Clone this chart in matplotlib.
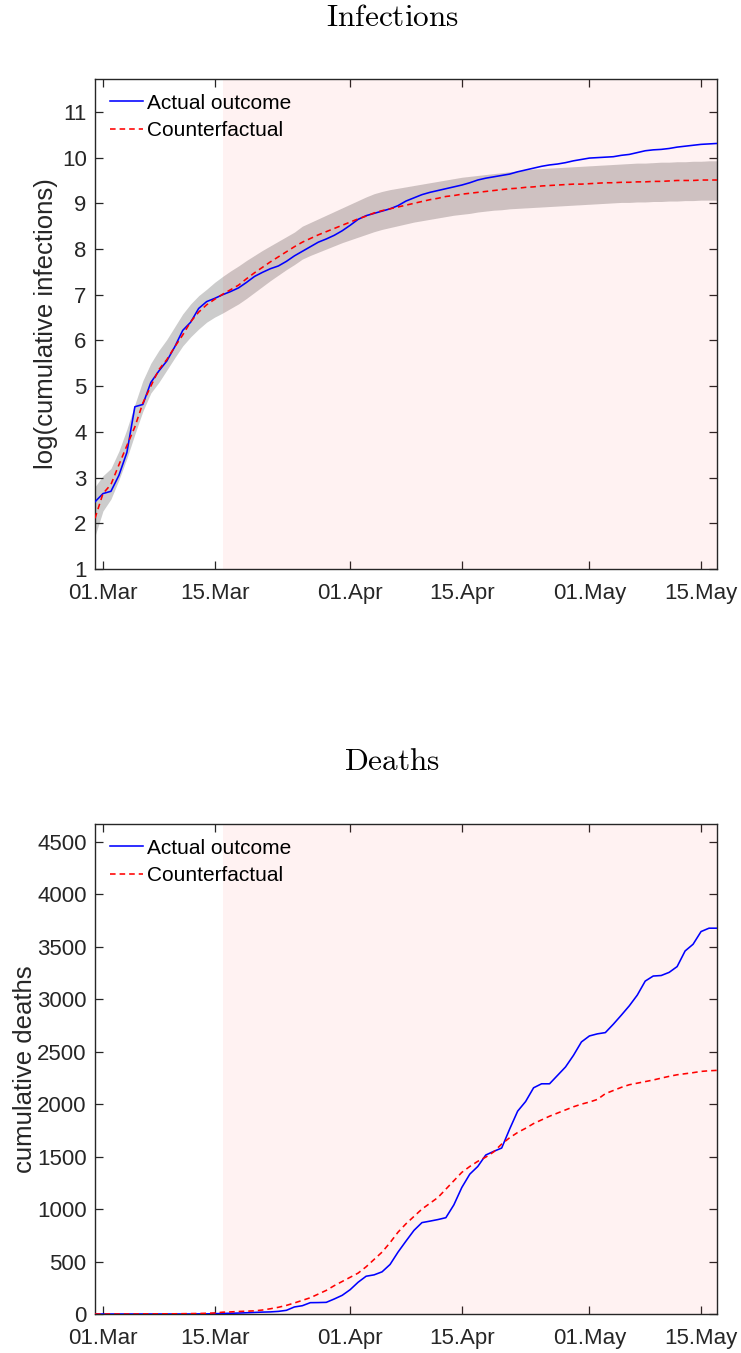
import matplotlib
matplotlib.use("Agg")
import matplotlib.pyplot as plt
import matplotlib.dates as mdates
import numpy as np
import pandas as pd

plt.rcParams['font.family'] = ['Liberation Sans', 'DejaVu Sans']
plt.rcParams['mathtext.fontset'] = 'cm'

# ---------------- data ----------------
start_date = "2020-02-29"
n_days = 79
policy_start = "2020-03-16"

inf_actual = [2.47, 2.65, 2.70, 3.05, 3.55, 4.55, 4.60, 5.08, 5.33, 5.55,
              5.86, 6.22, 6.40, 6.70, 6.85, 6.92, 7.00, 7.07, 7.15, 7.27,
              7.40, 7.49, 7.57, 7.63, 7.73, 7.85, 7.95, 8.05, 8.15, 8.22,
              8.30, 8.40, 8.52, 8.65, 8.73, 8.78, 8.83, 8.88, 8.95, 9.05,
              9.12, 9.19, 9.24, 9.28, 9.32, 9.36, 9.40, 9.45, 9.51, 9.55,
              9.58, 9.61, 9.64, 9.69, 9.73, 9.77, 9.81, 9.84, 9.86, 9.89,
              9.93, 9.96, 9.99, 10.00, 10.01, 10.02, 10.05, 10.07, 10.11, 10.15,
              10.17, 10.18, 10.20, 10.23, 10.25, 10.27, 10.29, 10.30, 10.31]

inf_counter = [2.11, 2.65, 2.85, 3.28, 3.70, 4.11, 4.63, 5.00, 5.36, 5.58,
               5.86, 6.12, 6.41, 6.62, 6.78, 6.90, 7.01, 7.11, 7.21, 7.35,
               7.48, 7.60, 7.72, 7.83, 7.94, 8.05, 8.15, 8.23, 8.31, 8.38,
               8.45, 8.52, 8.59, 8.66, 8.72, 8.79, 8.84, 8.88, 8.92, 8.96,
               9.00, 9.04, 9.08, 9.11, 9.15, 9.17, 9.20, 9.22, 9.24, 9.26,
               9.28, 9.30, 9.32, 9.33, 9.35, 9.36, 9.38, 9.39, 9.40, 9.41,
               9.42, 9.42, 9.43, 9.44, 9.45, 9.45, 9.46, 9.46, 9.47, 9.47,
               9.48, 9.48, 9.49, 9.50, 9.50, 9.50, 9.51, 9.51, 9.51]

inf_upper = [2.80, 3.04, 3.20, 3.58, 4.06, 4.60, 5.12, 5.50, 5.78, 6.02,
             6.30, 6.58, 6.80, 6.98, 7.12, 7.27, 7.40, 7.52, 7.63, 7.75,
             7.86, 7.97, 8.07, 8.17, 8.27, 8.37, 8.50, 8.58, 8.66, 8.74,
             8.82, 8.90, 8.98, 9.06, 9.14, 9.21, 9.26, 9.30, 9.33, 9.36,
             9.39, 9.42, 9.45, 9.48, 9.51, 9.54, 9.57, 9.59, 9.61, 9.63,
             9.65, 9.67, 9.69, 9.71, 9.73, 9.75, 9.76, 9.77, 9.78, 9.79,
             9.80, 9.81, 9.82, 9.83, 9.84, 9.85, 9.86, 9.87, 9.88, 9.88,
             9.89, 9.90, 9.90, 9.91, 9.91, 9.92, 9.92, 9.93, 9.93]

inf_lower = [1.72, 2.27, 2.53, 2.95, 3.42, 3.95, 4.45, 4.85, 5.08, 5.35,
             5.62, 5.88, 6.08, 6.25, 6.40, 6.51, 6.60, 6.70, 6.80, 6.92,
             7.05, 7.18, 7.31, 7.43, 7.55, 7.66, 7.78, 7.86, 7.93, 8.00,
             8.07, 8.14, 8.20, 8.26, 8.32, 8.38, 8.43, 8.47, 8.51, 8.55,
             8.59, 8.62, 8.65, 8.68, 8.71, 8.74, 8.76, 8.78, 8.81, 8.83,
             8.85, 8.86, 8.88, 8.89, 8.90, 8.91, 8.92, 8.93, 8.94, 8.95,
             8.96, 8.97, 8.98, 8.99, 9.00, 9.01, 9.02, 9.02, 9.03, 9.03,
             9.04, 9.04, 9.05, 9.05, 9.06, 9.06, 9.07, 9.07, 9.07]

deaths_actual = [0, 0, 0, 0, 0, 0, 0, 0, 0, 0,
                 0, 0, 0, 1, 1, 3, 5, 7, 9, 12,
                 15, 18, 20, 25, 35, 67, 79, 108, 109, 111,
                 143, 178, 232, 303, 360, 373, 402, 472, 590, 695,
                 797, 871, 885, 900, 918, 1040, 1206, 1333, 1406, 1515,
                 1550, 1582, 1763, 1933, 2025, 2156, 2194, 2194, 2274, 2354,
                 2465, 2593, 2650, 2670, 2682, 2762, 2848, 2937, 3039, 3173,
                 3221, 3226, 3256, 3311, 3460, 3524, 3645, 3677, 3677]

deaths_counter = [0, 0, 0, 0, 0, 0, 1, 1, 1, 2,
                  2, 3, 4, 5, 7, 10, 17, 20, 24, 27,
                  30, 38, 50, 64, 82, 105, 130, 155, 190, 225,
                  270, 310, 350, 390, 450, 520, 590, 680, 780, 860,
                  930, 1000, 1055, 1110, 1190, 1270, 1350, 1406, 1455, 1495,
                  1545, 1620, 1680, 1730, 1770, 1815, 1850, 1885, 1915, 1945,
                  1975, 2000, 2020, 2045, 2100, 2130, 2160, 2185, 2200, 2215,
                  2230, 2248, 2265, 2280, 2290, 2300, 2312, 2318, 2322]

tick_dates = ["2020-03-01", "2020-03-15", "2020-04-01", "2020-04-15",
              "2020-05-01", "2020-05-15"]
inf_yticks = [1, 2, 3, 4, 5, 6, 7, 8, 9, 10, 11]
death_yticks = [0, 500, 1000, 1500, 2000, 2500, 3000, 3500, 4000, 4500]

# ---------------- plot ----------------
dates = pd.date_range(start_date, periods=n_days)
W, H = 741, 1353
fig = plt.figure(figsize=(W / 100, H / 100), dpi=100)

spine_col = '#262626'
tick_fs = 16
leg_fs = 15
ylab_fs = 18.5


def style_axes(ax, yticks, ylim):
    ax.set_xlim(dates[0], dates[-1])
    ax.set_ylim(*ylim)
    ax.set_yticks(yticks)
    ax.set_xticks(pd.to_datetime(tick_dates))
    ax.xaxis.set_major_formatter(mdates.DateFormatter('%d.%b'))
    ax.tick_params(direction='in', length=6, width=0.9, colors=spine_col,
                   labelsize=tick_fs, top=True, right=True)
    ax.tick_params(axis='y', pad=6)
    ax.tick_params(axis='x', pad=10)
    for s in ax.spines.values():
        s.set_color(spine_col)
        s.set_linewidth(1.0)


def legend(ax):
    ax.legend(loc='upper left', frameon=False, fontsize=leg_fs,
              handlelength=1.6, handletextpad=0.2, borderaxespad=0.1,
              borderpad=0.6, labelspacing=0.4)


L = 95 / W
AW = 622 / W
AH = 490 / H

# Infections
ax1 = fig.add_axes([L, 1 - 569 / H, AW, AH])
ax1.fill_between(dates, inf_lower, inf_upper, color=(0.8, 0.8, 0.8),
                 linewidth=0, zorder=1)
ax1.axvspan(pd.Timestamp(policy_start), dates[-1], color='#ff0000',
            alpha=0.05, linewidth=0, zorder=2)
ax1.plot(dates, inf_actual, color='#0000ff', lw=1.15, zorder=4,
         label='Actual outcome')
ax1.plot(dates, inf_counter, color='#ff0000', lw=1.15, ls=(0, (3.5, 2.5)),
         zorder=5, label='Counterfactual')
style_axes(ax1, inf_yticks, (1, 11.72))
ax1.set_ylabel('log(cumulative infections)', fontsize=ylab_fs,
               color='#262626', labelpad=2.5)
legend(ax1)

# Deaths
ax2 = fig.add_axes([L, 1 - 1314 / H, AW, AH])
ax2.axvspan(pd.Timestamp(policy_start), dates[-1], color='#ff0000',
            alpha=0.05, linewidth=0, zorder=2)
ax2.plot(dates, deaths_actual, color='#0000ff', lw=1.15, zorder=4,
         label='Actual outcome')
ax2.plot(dates, deaths_counter, color='#ff0000', lw=1.15, ls=(0, (3.5, 2.5)),
         zorder=5, label='Counterfactual')
style_axes(ax2, death_yticks, (0, 4670))
ax2.set_ylabel('cumulative deaths', fontsize=ylab_fs, color='#262626',
               labelpad=0)
legend(ax2)

fig.text(392 / W, 1 - 18 / H, r'$\mathrm{Infections}$', ha='center',
         va='center', fontsize=22.5, color='black')
fig.text(392 / W, 1 - 762 / H, r'$\mathrm{Deaths}$', ha='center',
         va='center', fontsize=22.5, color='black')

fig.savefig('out.png', dpi=100)
